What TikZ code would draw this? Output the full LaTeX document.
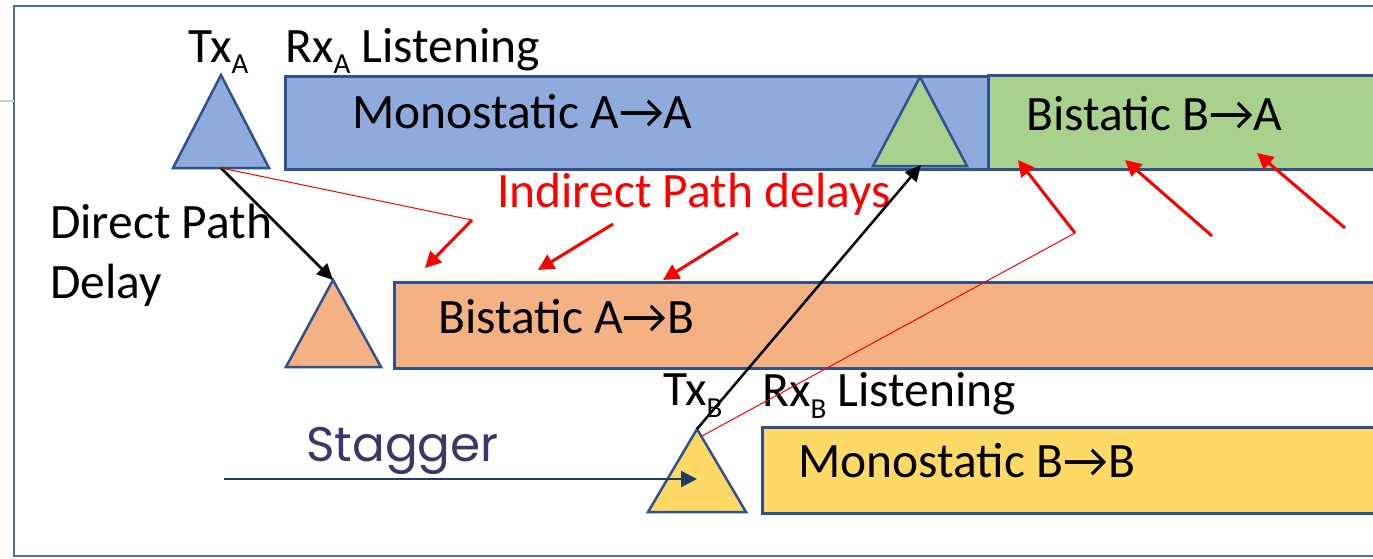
\documentclass[tikz,border=0pt]{standalone}
\usepackage{fontspec}
\setmainfont{Carlito}
\newfontfamily\stagfont{Poppins}
\usetikzlibrary{arrows.meta}
\definecolor{frameC}{HTML}{4A6AA8}
\definecolor{edgeC}{HTML}{2F528F}
\definecolor{blueF}{HTML}{8FAADC}
\definecolor{greenF}{HTML}{A9D18E}
\definecolor{orangeF}{HTML}{F4B183}
\definecolor{yellowF}{HTML}{FFD966}
\definecolor{stagC}{HTML}{38386B}
\definecolor{stagA}{HTML}{203F5E}
\definecolor{redC}{HTML}{FF0000}
\newcommand{\subs}[2]{\raisebox{-#1pt}{\fontsize{29}{29}\selectfont #2}}
\tikzset{
  tri/.style={draw=edgeC, line width=2.5pt, line join=miter},
  bar/.style={draw=edgeC, line width=2.5pt, rectangle, inner sep=0pt, anchor=north west},
  lbl/.style={anchor=base west, inner sep=0pt, font=\fontsize{49.5}{58}\selectfont},
  redarr/.style={draw=redC, line width=3pt, -{Triangle[length=16pt,width=16pt]}},
  redthin/.style={draw=redC, line width=1pt},
  blkarr/.style={draw=black, line width=2.5pt, -{Triangle[length=16pt,width=15pt]}},
  stagarr/.style={draw=stagA, line width=2.5pt, -{Triangle[length=16pt,width=16pt]}}
}
\begin{document}
\begin{tikzpicture}[x=1pt,y=-1pt]
\useasboundingbox (0,0) rectangle (1373,558);
\clip (0,0) rectangle (1373,558);
% frame
\draw[frameC, line width=2pt] (1400,6) -- (14,6) -- (14,556) -- (1400,556);
\draw[gray!40, line width=1.5pt] (0,101) -- (14,101);

% bars
\node[bar, fill=blueF, minimum width=703pt, minimum height=93pt] (monoA) at (284,75) {};
\node[bar, fill=greenF, minimum width=420pt, minimum height=94pt] (biBA) at (987,74) {};
\node[bar, fill=orangeF, minimum width=1010pt, minimum height=86pt] (biAB) at (393,281) {};
\node[bar, fill=yellowF, minimum width=640pt, minimum height=86pt] (monoB) at (761,426) {};

% triangles
\coordinate (txA) at (221,75);  \coordinate (txAb) at (221,168);
\draw[tri, fill=blueF] (173,168) -- (txA) -- (269,168) -- cycle;
\coordinate (rxBA) at (920,77); \coordinate (rxBAb) at (921,165);
\draw[tri, fill=greenF] (873,166) -- (rxBA) -- (967,166) -- cycle;
\coordinate (rxAB) at (333,280);
\draw[tri, fill=orangeF] (286,367) -- (rxAB) -- (381,367) -- cycle;
\coordinate (txB) at (697,429); \coordinate (txBr) at (702,436);
\draw[tri, fill=yellowF] (648,512) -- (txB) -- (746,512) -- cycle;

% labels
\node[lbl] (ltxA) at (188,62) {Tx\subs{11}{A}};
\node[lbl] (lrxA) at (285,62) {Rx\subs{11}{A} Listening};
\node[lbl] (tmonoA) at (352,128) {Monostatic A→A};
\node[lbl] (tbiBA) at (1026,130) {Bistatic B→A};
\node[lbl, text=redC] (tind) at (497,207) {Indirect Path delays};
\node[lbl] (tdp1) at (50,238) {Direct Path};
\node[lbl] (tdp2) at (50,298) {Delay};
\node[lbl] (tbiAB) at (438,333) {Bistatic A→B};
\node[lbl] (ltxB) at (663,405) {Tx\subs{12}{B}};
\node[lbl] (lrxB) at (762,406) {Rx\subs{12}{B} Listening};
\node[lbl] (tmonoB) at (798,477) {Monostatic B→B};
\node[anchor=base west, inner sep=0pt, font=\stagfont\fontsize{48.5}{55}\selectfont, text=stagC] (tstag) at (306,461) {Stagger};

% connectors
\draw[blkarr] (txAb) -- (rxAB);
\draw[blkarr] (txB) -- (rxBAb);

\coordinate (k1) at (472,220);
\draw[redthin] (txAb) -- (k1);
\coordinate (k1t) at (425,268);
\draw[redarr] (k1) -- (k1t);
\coordinate (a2s) at (613,224); \coordinate (a2t) at (538,270);
\draw[redarr] (a2s) -- (a2t);
\coordinate (a3s) at (738,233); \coordinate (a3t) at (663,280);
\draw[redarr] (a3s) -- (a3t);

\coordinate (k2) at (1075,233);
\draw[redthin] (txBr) -- (k2);
\coordinate (k2t) at (1018,160);
\draw[redarr] (k2) -- (k2t);
\coordinate (b2s) at (1212,236); \coordinate (b2t) at (1125,160);
\draw[redarr] (b2s) -- (b2t);
\coordinate (b3s) at (1345,228); \coordinate (b3t) at (1257,153);
\draw[redarr] (b3s) -- (b3t);

\coordinate (sst) at (224,479);
\coordinate (sen) at (697,479);
\draw[stagarr] (sst) -- (sen);
\end{tikzpicture}
\end{document}
